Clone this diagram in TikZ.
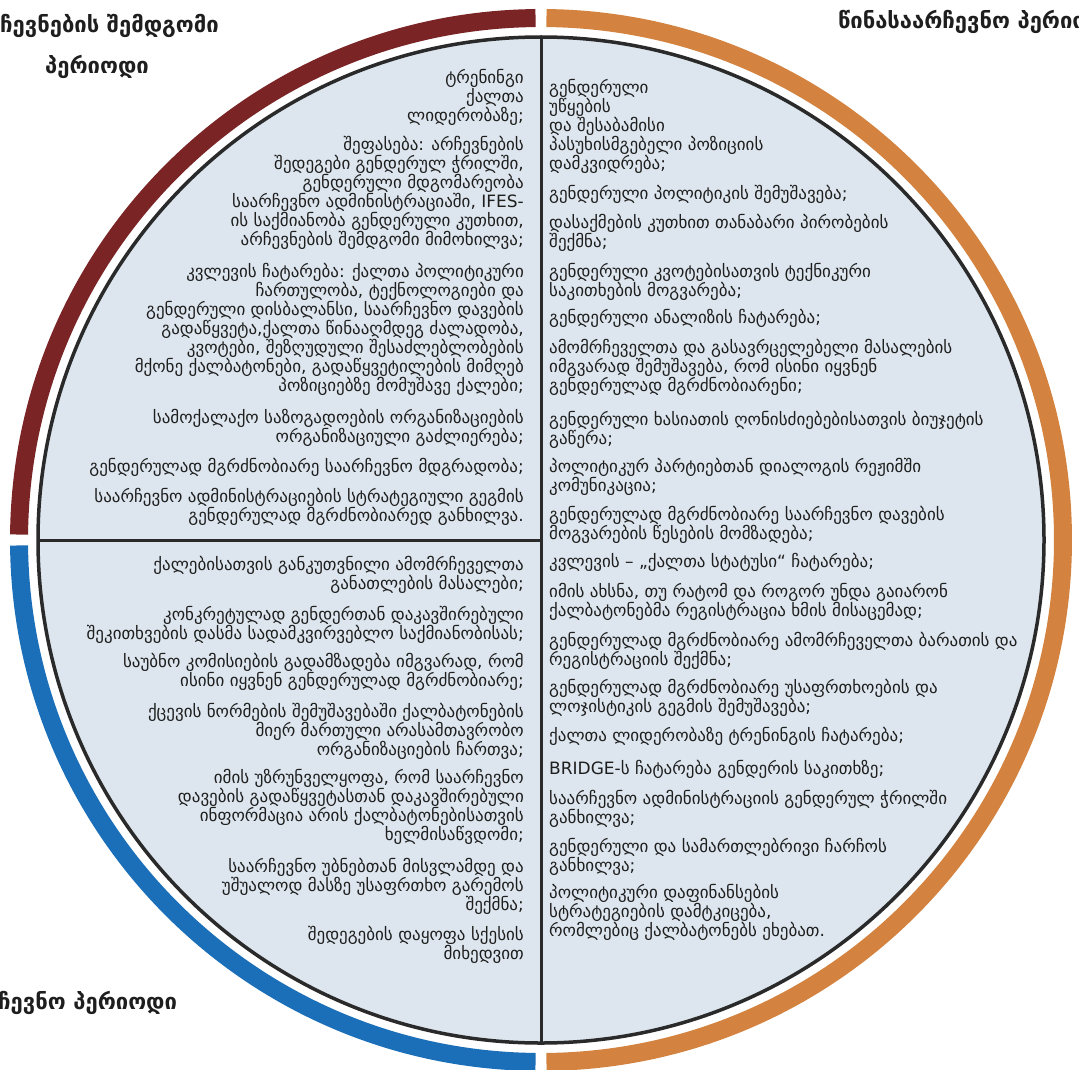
\documentclass[tikz,border=0pt]{standalone}
\usepackage{fontspec}
\setmainfont{DejaVu Sans}
\definecolor{ringred}{HTML}{7A2426}
\definecolor{ringorange}{HTML}{D3823F}
\definecolor{ringblue}{HTML}{1B6FB8}
\definecolor{panelfill}{HTML}{DDE6EE}
\definecolor{rimgrey}{HTML}{2A2A2A}
\definecolor{txtgrey}{HTML}{1E1E1E}
\tikzset{
  ring/.style={line width=18pt},
  divline/.style={line width=3pt, draw=rimgrey},
  lefttxt/.style={anchor=base east, align=right, inner sep=0pt, text=txtgrey, font=\fontsize{17}{19}\selectfont},
  righttxt/.style={anchor=base west, align=left, inner sep=0pt, text=txtgrey, font=\fontsize{17}{19}\selectfont},
  heading/.style={inner sep=0pt, text=txtgrey, font=\fontsize{22}{26}\selectfont\bfseries}
}
\begin{document}
\begin{tikzpicture}[x=1pt,y=-1pt]
\useasboundingbox (0,0) rectangle (1079,1070);
\clip (0,0) rectangle (1079,1070);
\coordinate (ctr) at (541,540);
\draw[ring, ringred] (ctr) ++(-90.6:522) arc[start angle=-90.6, end angle=-179.4, radius=522];
\draw[ring, ringorange] (ctr) ++(-89.4:522) arc[start angle=-89.4, end angle=89.4, radius=522];
\draw[ring, ringblue] (ctr) ++(-180.6:522) arc[start angle=-180.6, end angle=-269.4, radius=522];
\filldraw[fill=panelfill, draw=rimgrey, line width=3.5pt] (ctr) circle[radius=503];
\coordinate (rimtop) at (541,37);
\coordinate (rimbot) at (541,1043);
\coordinate (rimleft) at (37,540);
\draw[divline] (rimtop) -- (rimbot);
\draw[divline] (rimleft) -- (ctr);
\node[heading, anchor=west] (hdpost) at (0,26) {ჩევნების შემდგომი};
\node[heading] (hdpostb) at (97,67) {პერიოდი};
\node[heading, anchor=west] (hdpre) at (838,22) {წინასაარჩევნო პერიო};
\node[heading, anchor=west] (hdelect) at (-2,1003) {ჩევნო პერიოდი};
\node[lefttxt] (tl1) at (524,122) {ტრენინგი\\ქალთა\\ლიდერობაზე;};
\node[lefttxt] (tl2) at (524,245) {შეფასება: არჩევნების\\შედეგები გენდერულ ჭრილში,\\გენდერული მდგომარეობა\\საარჩევნო ადმინისტრაციაში, IFES-\\ის საქმიანობა გენდერული კუთხით,\\არჩევნების შემდგომი მიმოხილვა;};
\node[lefttxt] (tl3) at (524,391) {კვლევის ჩატარება: ქალთა პოლიტიკური\\ჩართულობა, ტექნოლოგიები და\\გენდერული დისბალანსი, საარჩევნო დავების\\გადაწყვეტა,ქალთა წინააღმდეგ ძალადობა,\\კვოტები, შეზღუდული შესაძლებლობების\\მქონე ქალბატონები, გადაწყვეტილების მიმღებ\\პოზიციებზე მომუშავე ქალები;};
\node[lefttxt] (tl4) at (524,442) {სამოქალაქო საზოგადოების ორგანიზაციების\\ორგანიზაციული გაძლიერება;};
\node[lefttxt] (tl5) at (524,472) {გენდერულად მგრძნობიარე საარჩევნო მდგრადობა;};
\node[lefttxt] (tl6) at (524,521) {საარჩევნო ადმინისტრაციების სტრატეგიული გეგმის\\გენდერულად მგრძნობიარედ განხილვა.};
\node[righttxt] (tr1) at (549,169) {გენდერული\\უწყების\\და შესაბამისი\\პასუხისმგებელი პოზიციის\\დამკვიდრება;};
\node[righttxt] (tr2) at (549,199) {გენდერული პოლიტიკის შემუშავება;};
\node[righttxt] (tr3) at (549,247) {დასაქმების კუთხით თანაბარი პირობების\\შექმნა;};
\node[righttxt] (tr4) at (549,296) {გენდერული კვოტებისათვის ტექნიკური\\საკითხების მოგვარება;};
\node[righttxt] (tr5) at (549,323) {გენდერული ანალიზის ჩატარება;};
\node[righttxt] (tr6) at (549,391) {ამომრჩეველთა და გასავრცელებელი მასალების\\იმგვარად შემუშავება, რომ ისინი იყვნენ\\გენდერულად მგრძნობიარენი;};
\node[righttxt] (tr7) at (549,444) {გენდერული ხასიათის ღონისძიებებისათვის ბიუჯეტის\\გაწერა;};
\node[righttxt] (tr8) at (549,491) {პოლიტიკურ პარტიებთან დიალოგის რეჟიმში\\კომუნიკაცია;};
\node[righttxt] (tr9) at (549,539) {გენდერულად მგრძნობიარე საარჩევნო დავების\\მოგვარების წესების მომზადება;};
\node[righttxt] (tr10) at (549,567) {კვლევის – „ქალთა სტატუსი“ ჩატარება;};
\node[righttxt] (tr11) at (549,616) {იმის ახსნა, თუ რატომ და როგორ უნდა გაიარონ\\ქალბატონებმა რეგისტრაცია ხმის მისაცემად;};
\node[righttxt] (tr12) at (549,665) {გენდერულად მგრძნობიარე ამომრჩეველთა ბარათის და\\რეგისტრაციის შექმნა;};
\node[righttxt] (tr13) at (549,712) {გენდერულად მგრძნობიარე უსაფრთხოების და\\ლოჯისტიკის გეგმის შემუშავება;};
\node[righttxt] (tr14) at (549,741) {ქალთა ლიდერობაზე ტრენინგის ჩატარება;};
\node[righttxt] (tr15) at (549,774) {BRIDGE-ს ჩატარება გენდერის საკითხზე;};
\node[righttxt] (tr16) at (549,823) {საარჩევნო ადმინისტრაციის გენდერულ ჭრილში\\განხილვა;};
\node[righttxt] (tr17) at (549,871) {გენდერული და სამართლებრივი ჩარჩოს\\განხილვა;};
\node[righttxt] (tr18) at (549,936) {პოლიტიკური დაფინანსების\\სტრატეგიების დამტკიცება,\\რომლებიც ქალბატონებს ეხებათ.};
\node[lefttxt] (bl1) at (524,589) {ქალებისათვის განკუთვნილი ამომრჩეველთა\\განათლების მასალები;};
\node[lefttxt] (bl2) at (524,639) {კონკრეტულად გენდერთან დაკავშირებული\\შეკითხვების დასმა სადამკვირვებლო საქმიანობისას;};
\node[lefttxt] (bl3) at (524,686) {საუბნო კომისიების გადამზადება იმგვარად, რომ\\ისინი იყვნენ გენდერულად მგრძნობიარე;};
\node[lefttxt] (bl4) at (524,755) {ქცევის ნორმების შემუშავებაში ქალბატონების\\მიერ მართული არასამთავრობო\\ორგანიზაციების ჩართვა;};
\node[lefttxt] (bl5) at (524,840) {იმის უზრუნველყოფა, რომ საარჩევნო\\დავების გადაწყვეტასთან დაკავშირებული\\ინფორმაცია არის ქალბატონებისათვის\\ხელმისაწვდომი;};
\node[lefttxt] (bl6) at (524,910) {საარჩევნო უბნებთან მისვლამდე და\\უშუალოდ მასზე უსაფრთხო გარემოს\\შექმნა;};
\node[lefttxt] (bl7) at (524,959) {შედეგების დაყოფა სქესის\\მიხედვით};
\end{tikzpicture}
\end{document}
